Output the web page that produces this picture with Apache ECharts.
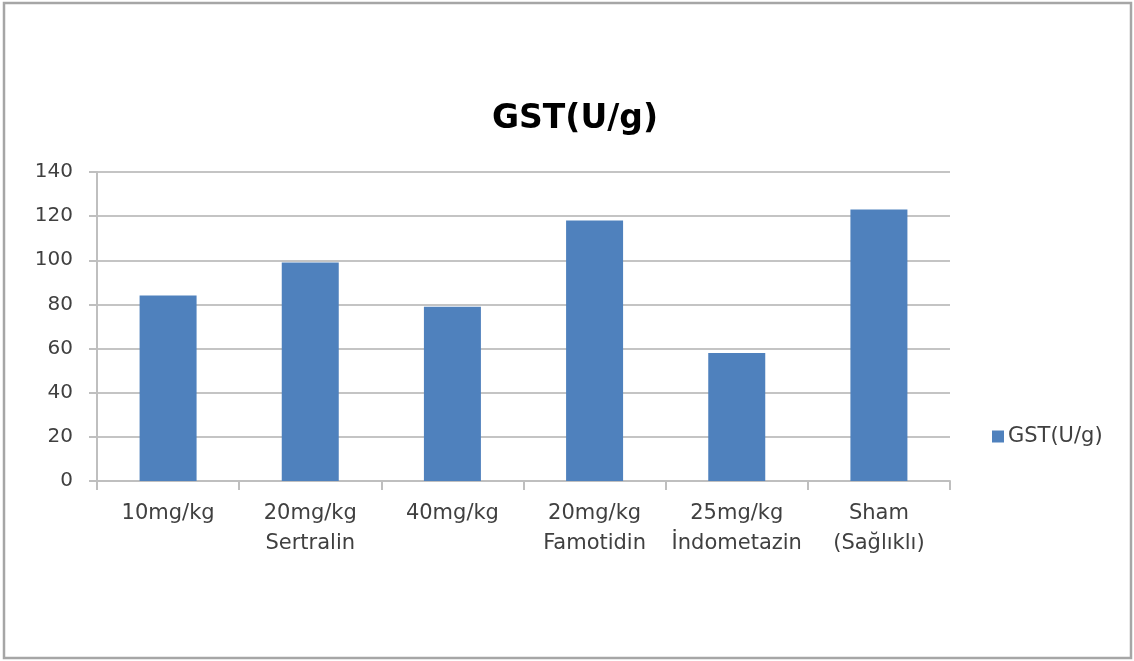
<!DOCTYPE html>
<html>
<head>
<meta charset="utf-8">
<script src="https://cdn.jsdelivr.net/npm/echarts@6/dist/echarts.min.js"></script>
<style>
  html, body { margin: 0; padding: 0; background: #fff; }
  #chart { width: 1134px; height: 661px; }
</style>
</head>
<body>
<div id="chart"></div>
<script>
// data
const categories = ['10mg/kg', '20mg/kg\nSertralin', '40mg/kg', '20mg/kg\nFamotidin', '25mg/kg\nİndometazin', 'Sham\n(Sağlıklı)']
const gstValues = [84, 99, 79, 118, 58, 123]
const seriesName = 'GST(U/g)'

const font = '"DejaVu Sans", "Noto Sans", sans-serif'

const chart = echarts.init(document.getElementById('chart'))
chart.setOption({
  animation: false,
  backgroundColor: '#fff',
  title: {
    text: 'GST(U/g)',
    left: 570,
    textAlign: 'center',
    top: 98,
    textStyle: { fontFamily: font, fontSize: 33, fontWeight: 'bold', color: '#000' }
  },
  legend: {
    data: [seriesName],
    left: 987,
    top: 421,
    icon: 'rect',
    itemWidth: 12,
    itemHeight: 12,
    itemGap: 6,
    textStyle: { fontFamily: font, fontSize: 21, color: '#404040', padding: [0, 0, 0, -1] }
  },
  graphic: [{
    type: 'rect',
    shape: { x: 4, y: 3, width: 1127, height: 655 },
    style: { fill: 'none', stroke: '#a6a6a6', lineWidth: 2.5 },
    silent: true
  }],
  grid: { left: 97, right: 184, top: 172, bottom: 180, containLabel: false },
  xAxis: {
    type: 'category',
    data: categories,
    axisLine: { lineStyle: { color: '#bfbfbf', width: 2 } },
    axisTick: { show: true, length: 9, lineStyle: { color: '#bfbfbf', width: 2 } },
    axisLabel: {
      interval: 0,
      margin: 18,
      lineHeight: 30,
      fontFamily: font,
      fontSize: 21,
      color: '#404040'
    }
  },
  yAxis: {
    type: 'value',
    min: 0,
    max: 140,
    interval: 20,
    axisLine: { show: true, lineStyle: { color: '#bfbfbf', width: 2 } },
    axisTick: { show: true, length: 8, lineStyle: { color: '#bfbfbf', width: 2 } },
    axisLabel: { margin: 24, fontFamily: font, fontSize: 20, color: '#404040' },
    splitLine: { lineStyle: { color: '#c4c4c4', width: 2 } }
  },
  series: [{
    name: seriesName,
    type: 'bar',
    data: gstValues,
    barWidth: 57,
    itemStyle: { color: '#4f81bd' }
  }]
})
</script>
</body>
</html>
